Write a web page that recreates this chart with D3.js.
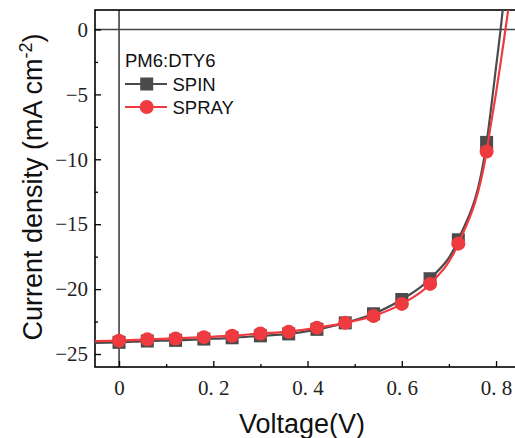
<!DOCTYPE html>
<html><head><meta charset="utf-8">
<script src="https://cdn.jsdelivr.net/npm/d3@7"></script>
<style>body{margin:0;background:#fff}svg{display:block}</style>
</head><body>
<script>
// ---- data ----
const voltage = [0, 0.06, 0.12, 0.18, 0.24, 0.30, 0.36, 0.42, 0.48, 0.54, 0.60, 0.66, 0.72, 0.78];
const spinJ   = [-24.1, -24.0, -23.95, -23.85, -23.75, -23.6, -23.45, -23.1, -22.6, -21.9, -20.8, -19.2, -16.2, -8.7];
const sprayJ  = [-23.97, -23.87, -23.8, -23.7, -23.59, -23.42, -23.28, -22.97, -22.6, -22.07, -21.14, -19.6, -16.5, -9.4];
// extra points of the continuous curves beyond the markers
const lineVStart = -0.051;
const spinStart = -24.15, sprayStart = -24.0;
const tailV     = [0.79, 0.80, 0.81, 0.82, 0.83];
const spinTail  = [-5.9, -2.9, 0.1, 3.4, 6.5];
const sprayTail = [-7.1, -4.9, -2.5, 0.0, 2.6];
const xMajor = [0, 0.2, 0.4, 0.6, 0.8];
const xMinor = [0.1, 0.3, 0.5, 0.7];
const yMajor = [-25, -20, -15, -10, -5, 0];
const yMinor = [-22.5, -17.5, -12.5, -7.5, -2.5];
const seriesNames = ["SPIN", "SPRAY"];
const legendTitle = "PM6:DTY6";

const W = 515, H = 438;
const L = 95, R = 519.6, T = 10, B = 367;
const svg = d3.select("body").append("svg").attr("width", W).attr("height", H);
const x = d3.scaleLinear().domain([-0.051, 0.85]).range([L, R]);
const y = d3.scaleLinear().domain([-26, 1.5]).range([B, T]);

const spinCol = "#4b4b4b", sprayCol = "#ef3b3f";

svg.append("clipPath").attr("id", "clip").append("rect")
  .attr("x", L).attr("y", T).attr("width", R - L).attr("height", B - T);

// zero lines
svg.append("line").attr("x1", x(0)).attr("x2", x(0)).attr("y1", T).attr("y2", B)
  .attr("stroke", "#000").attr("stroke-width", 1.2);
svg.append("line").attr("x1", L).attr("x2", R).attr("y1", y(0)).attr("y2", y(0))
  .attr("stroke", "#444").attr("stroke-width", 1.6);

// axes ticks (inside)
const fmtX = v => v === 0 ? "0" : d3.format(".1f")(v).replace(".", ". ");
const gx = svg.append("g").attr("transform", `translate(0,${B})`);
gx.call(d3.axisBottom(x).tickValues(xMajor).tickSize(-6).tickPadding(13).tickFormat(fmtX));
const gxm = svg.append("g").attr("transform", `translate(0,${B})`);
gxm.call(d3.axisBottom(x).tickValues(xMinor).tickSize(-3).tickFormat(""));
const gy = svg.append("g").attr("transform", `translate(${L},0)`);
gy.call(d3.axisLeft(y).tickValues(yMajor).tickSize(-6).tickPadding(7)
  .tickFormat(v => v < 0 ? "\u2212" + Math.abs(v) : String(v)));
const gym = svg.append("g").attr("transform", `translate(${L},0)`);
gym.call(d3.axisLeft(y).tickValues(yMinor).tickSize(-3).tickFormat(""));
[gx, gxm, gy, gym].forEach(g => {
  g.select(".domain").remove();
  g.selectAll("line").attr("stroke", "#000").attr("stroke-width", 1.3);
  g.selectAll("text").attr("font-family", "'Liberation Serif', 'DejaVu Serif', serif")
    .attr("font-size", 21).attr("fill", "#222");
});

// frame
svg.append("rect").attr("x", L).attr("y", T).attr("width", R - L).attr("height", B - T)
  .attr("fill", "none").attr("stroke", "#000").attr("stroke-width", 1.6);

// lines
const line = d3.line().x(d => x(d[0])).y(d => y(d[1])).curve(d3.curveMonotoneX);
const spinPts = [[lineVStart, spinStart], ...voltage.map((v, i) => [v, spinJ[i]]), ...tailV.map((v, i) => [v, spinTail[i]])];
const sprayPts = [[lineVStart, sprayStart], ...voltage.map((v, i) => [v, sprayJ[i]]), ...tailV.map((v, i) => [v, sprayTail[i]])];
const plot = svg.append("g").attr("clip-path", "url(#clip)");
plot.append("path").attr("d", line(spinPts)).attr("fill", "none").attr("stroke", spinCol).attr("stroke-width", 2.2);
plot.selectAll(".sq").data(voltage).enter().append("rect")
  .attr("x", (v) => x(v) - 6.5).attr("y", (v, i) => y(spinJ[i]) - 6.5)
  .attr("width", 13).attr("height", 13).attr("fill", spinCol);
plot.append("path").attr("d", line(sprayPts)).attr("fill", "none").attr("stroke", sprayCol).attr("stroke-width", 2.2);
plot.selectAll(".ci").data(voltage).enter().append("circle")
  .attr("cx", v => x(v)).attr("cy", (v, i) => y(sprayJ[i])).attr("r", 7).attr("fill", sprayCol);

// legend
const lf = "'Liberation Sans', Arial, sans-serif";
svg.append("text").attr("x", 125).attr("y", 67).attr("font-family", lf).attr("font-size", 18.5)
  .attr("fill", "#111").text(legendTitle);
const ly = [84, 107];
[spinCol, sprayCol].forEach((c, i) => {
  svg.append("line").attr("x1", 125).attr("x2", 167).attr("y1", ly[i]).attr("y2", ly[i])
    .attr("stroke", c).attr("stroke-width", 2.2);
  if (i === 0) svg.append("rect").attr("x", 140.2).attr("y", ly[i] - 6.5).attr("width", 13).attr("height", 13).attr("fill", c);
  else svg.append("circle").attr("cx", 146.7).attr("cy", ly[i]).attr("r", 7).attr("fill", c);
  svg.append("text").attr("x", 172.5).attr("y", ly[i] + 6.8).attr("font-family", lf)
    .attr("font-size", 18.5).attr("fill", "#111").text(seriesNames[i]);
});

// axis titles
svg.append("text").attr("x", 302).attr("y", 433).attr("text-anchor", "middle")
  .attr("font-family", lf).attr("font-size", 27).attr("fill", "#111").text("Voltage(V)");
const yt = svg.append("text").attr("transform", "translate(42,187) rotate(-90)")
  .attr("text-anchor", "middle").attr("font-family", lf).attr("font-size", 27).attr("fill", "#111");
yt.append("tspan").text("Current density (mA cm");
yt.append("tspan").attr("font-size", 18).attr("dy", -10).text("-2");
yt.append("tspan").attr("dy", 10).text(")");
</script>
</body></html>
